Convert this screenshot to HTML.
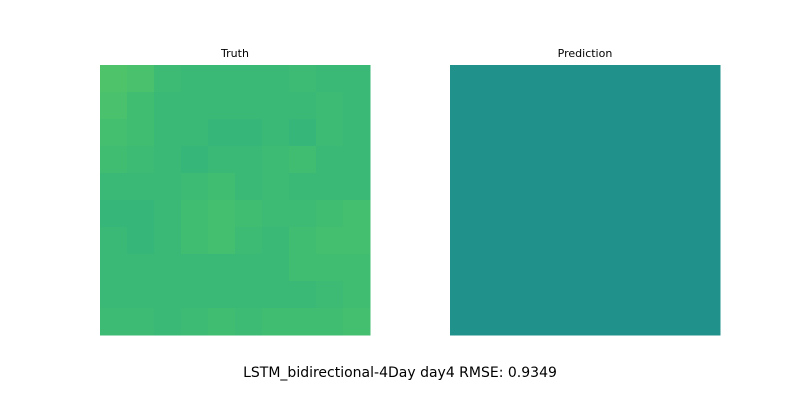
<!DOCTYPE html>
<html><head><meta charset="utf-8"><style>
body{margin:0;background:#fff;width:800px;height:400px;overflow:hidden;font-family:"DejaVu Sans","Liberation Sans",sans-serif}
</style></head><body>
<svg id="chart" width="800" height="400">
<rect width="800" height="400" fill="#fff"/>
<text x="235" y="57" font-size="11" text-anchor="middle">Truth</text>
<text x="585" y="57" font-size="11" text-anchor="middle">Prediction</text>
<g id="truth"></g>
<g id="pred"></g>
<text x="400" y="377" font-size="14" text-anchor="middle">LSTM_bidirectional-4Day day4 RMSE: 0.9349</text>
</svg>
<script>
const truthValues=[
[0.72,0.71,0.68,0.67,0.67,0.67,0.67,0.68,0.67,0.67],
[0.71,0.69,0.67,0.67,0.67,0.67,0.67,0.67,0.68,0.67],
[0.70,0.69,0.67,0.67,0.66,0.66,0.67,0.66,0.68,0.67],
[0.69,0.68,0.67,0.66,0.67,0.67,0.68,0.69,0.67,0.67],
[0.67,0.67,0.67,0.68,0.69,0.67,0.68,0.67,0.67,0.67],
[0.66,0.66,0.67,0.69,0.70,0.69,0.68,0.68,0.69,0.70],
[0.67,0.66,0.67,0.69,0.70,0.68,0.67,0.69,0.70,0.70],
[0.67,0.67,0.67,0.67,0.67,0.67,0.67,0.69,0.69,0.69],
[0.67,0.67,0.67,0.67,0.67,0.67,0.67,0.67,0.68,0.69],
[0.68,0.68,0.67,0.68,0.69,0.68,0.69,0.69,0.69,0.70]];
const predValues=[
[0.5,0.5,0.5,0.5,0.5,0.5,0.5,0.5,0.5,0.5],
[0.5,0.5,0.5,0.5,0.5,0.5,0.5,0.5,0.5,0.5],
[0.5,0.5,0.5,0.5,0.5,0.5,0.5,0.5,0.5,0.5],
[0.5,0.5,0.5,0.5,0.5,0.5,0.5,0.5,0.5,0.5],
[0.5,0.5,0.5,0.5,0.5,0.5,0.5,0.5,0.5,0.5],
[0.5,0.5,0.5,0.5,0.5,0.5,0.5,0.5,0.5,0.5],
[0.5,0.5,0.5,0.5,0.5,0.5,0.5,0.5,0.5,0.5],
[0.5,0.5,0.5,0.5,0.5,0.5,0.5,0.5,0.5,0.5],
[0.5,0.5,0.5,0.5,0.5,0.5,0.5,0.5,0.5,0.5],
[0.5,0.5,0.5,0.5,0.5,0.5,0.5,0.5,0.5,0.5]];
const stops=[[0.4,[42,120,142]],[0.5,[33,145,140]],[0.6,[34,168,132]],[0.7,[68,191,112]],[0.8,[122,209,81]],[0.9,[189,223,38]],[1.0,[253,231,37]]];
function cmap(v){
  if(v<=stops[0][0])return 'rgb('+stops[0][1]+')';
  for(let i=1;i<stops.length;i++){if(v<=stops[i][0]){const a=stops[i-1],b=stops[i],t=(v-a[0])/(b[0]-a[0]);
    return 'rgb('+a[1].map((c,k)=>Math.round(c+(b[1][k]-c)*t)).join(',')+')';}}
  return 'rgb('+stops[stops.length-1][1]+')';
}
const NS='http://www.w3.org/2000/svg';
function draw(g,vals,x0,y0,size){
  const n=vals.length,m=vals[0].length,cw=size/m,ch=size/n;
  vals.forEach((row,r)=>row.forEach((v,c)=>{
    const el=document.createElementNS(NS,'rect');
    el.setAttribute('x',x0+c*cw);el.setAttribute('y',y0+r*ch);
    el.setAttribute('width',cw+0.5);el.setAttribute('height',ch+0.5);
    el.setAttribute('fill',cmap(v));
    
    
    g.appendChild(el);
  }));
}
draw(document.getElementById('truth'),truthValues,100,65,270);
draw(document.getElementById('pred'),predValues,450,65,270);
</script>
</body></html>
